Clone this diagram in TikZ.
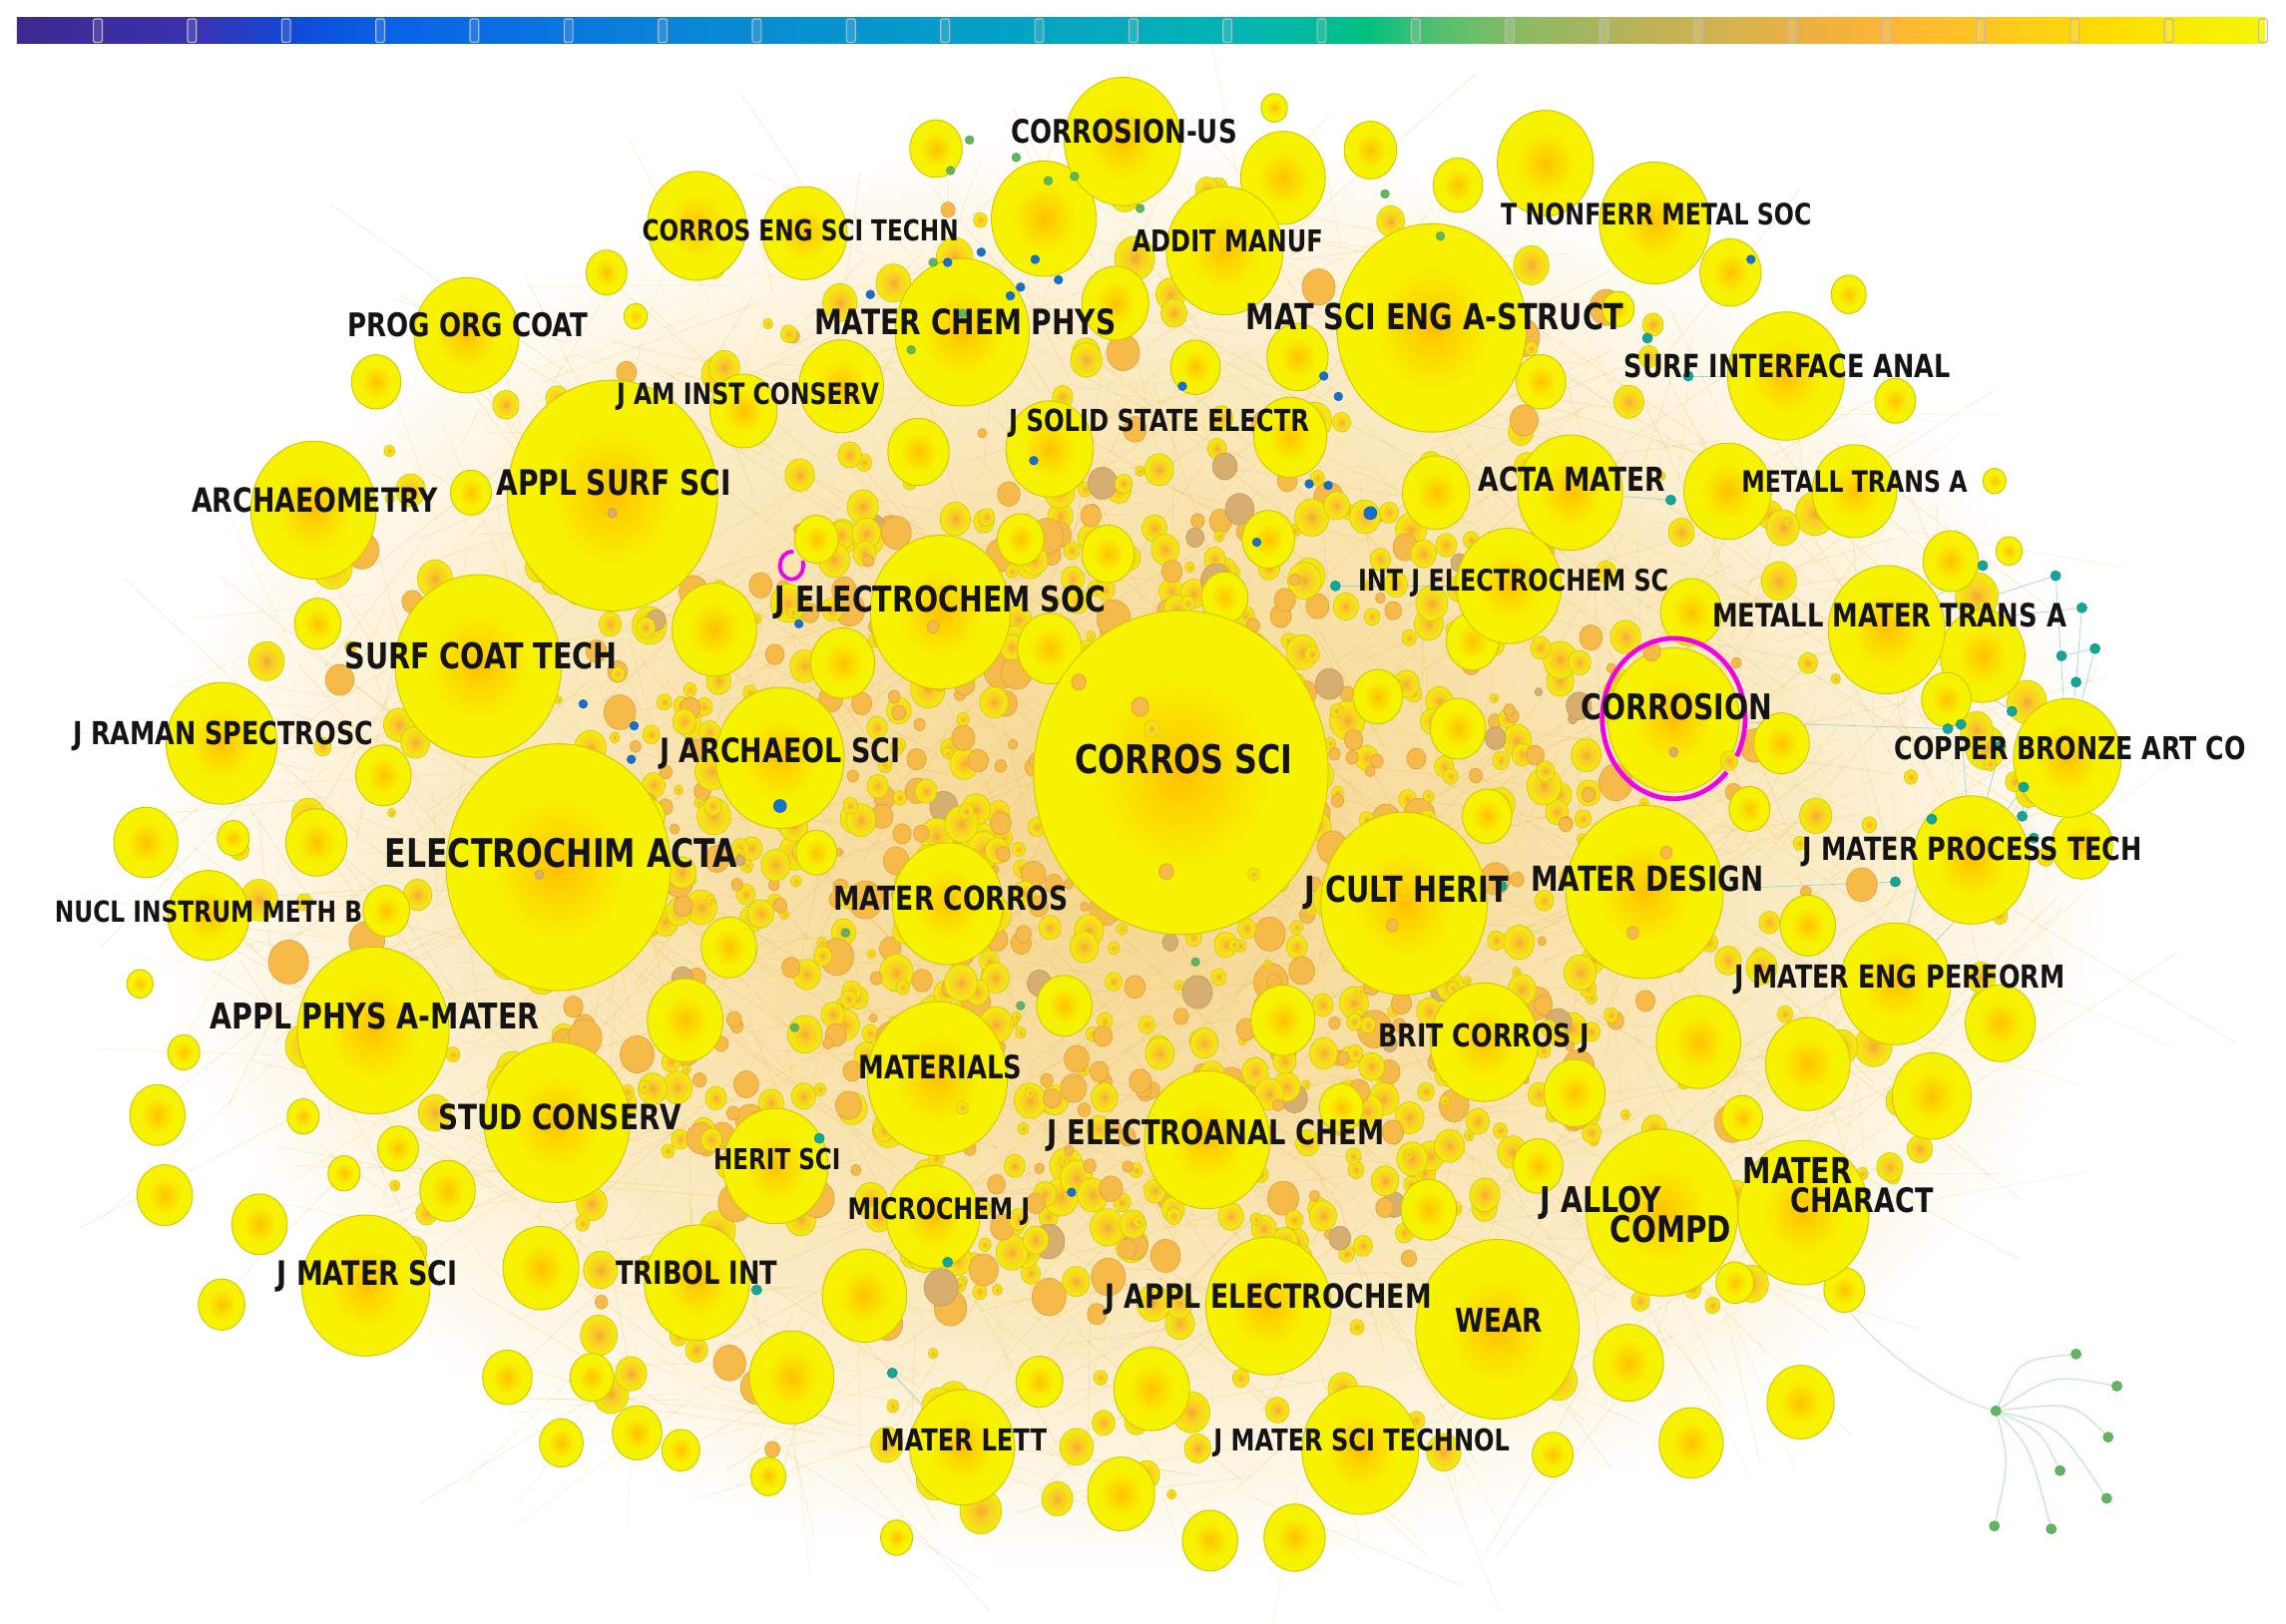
\documentclass[tikz,border=0pt]{standalone}
\usepackage{fontspec}
\usepackage{graphicx}
\usetikzlibrary{shapes.geometric}
\newfontfamily\lblfont{DejaVu Sans}[FakeStretch=0.8]
% node colours
\definecolor{jcore}{HTML}{FFC100}
\definecolor{jmid}{HTML}{FDD600}
\definecolor{jedge}{HTML}{F7F200}
\definecolor{jline}{HTML}{CEC600}
\definecolor{ocore}{HTML}{F5A830}
\definecolor{omid}{HTML}{F9CC28}
\definecolor{oedge}{HTML}{F5E810}
\definecolor{sOr}{HTML}{F6BA48}
\definecolor{sOrL}{HTML}{DE9C3A}
\definecolor{sTan}{HTML}{D6AE70}
\definecolor{sTanL}{HTML}{BC9658}
\definecolor{cl0}{HTML}{F6D68E}
\definecolor{cl1}{HTML}{F8E0A6}
\definecolor{cl2}{HTML}{FBEBC4}
\definecolor{cl3}{HTML}{FEF8EA}
\definecolor{cl4}{HTML}{FFFFFF}
\definecolor{tealdot}{HTML}{12A69B}
\definecolor{bluedot}{HTML}{1670CF}
\definecolor{greendot}{HTML}{5FB560}
\definecolor{mag}{HTML}{F000E6}
\definecolor{webO}{HTML}{E8A83A}
\definecolor{webY}{HTML}{E6D24A}
\definecolor{arcY}{HTML}{EFE39A}
\definecolor{tedgeC}{HTML}{7FD3D0}
\definecolor{gedgeC}{HTML}{CDE9CD}
% colour bar stops
\definecolor{cb0}{HTML}{3D2A90}
\definecolor{cb1}{HTML}{3A32B0}
\definecolor{cb2}{HTML}{1048D6}
\definecolor{cb3}{HTML}{0860E6}
\definecolor{cb4}{HTML}{0A70E2}
\definecolor{cb5}{HTML}{0A82D8}
\definecolor{cb6}{HTML}{0892CF}
\definecolor{cb7}{HTML}{04A2C6}
\definecolor{cb8}{HTML}{03ACBC}
\definecolor{cb9}{HTML}{00B6B0}
\definecolor{cb10}{HTML}{00BC98}
\definecolor{cb11}{HTML}{00C080}
\definecolor{cb12}{HTML}{50C070}
\definecolor{cb13}{HTML}{8CBA62}
\definecolor{cb14}{HTML}{B0B45A}
\definecolor{cb15}{HTML}{D4B24E}
\definecolor{cb16}{HTML}{F0B040}
\definecolor{cb17}{HTML}{FFB830}
\definecolor{cb18}{HTML}{FFC820}
\definecolor{cb19}{HTML}{FFDC00}
\definecolor{cb20}{HTML}{F5F800}
\pgfdeclareradialshading{jshade}{\pgfpoint{0bp}{0bp}}{color(0bp)=(jcore); color(6bp)=(jmid); color(15bp)=(jedge); color(50bp)=(jedge)}
\pgfdeclareradialshading{oshade}{\pgfpoint{0bp}{0bp}}{color(0bp)=(ocore); color(9bp)=(omid); color(22bp)=(oedge); color(50bp)=(oedge)}
\pgfdeclareradialshading{cloudshade}{\pgfpoint{0bp}{0bp}}{color(0bp)=(cl0); color(9bp)=(cl1); color(16bp)=(cl2); color(21bp)=(cl3); color(23.5bp)=(cl4); color(50bp)=(cl4)}
\pgfdeclarelayer{back}
\pgfdeclarelayer{edges}
\pgfsetlayers{back,edges,main}
\tikzset{
  jn/.style={ellipse, inner sep=0pt, shade, shading=jshade, draw=jline, line width=0.6pt},
  sorange/.style={fill=sOr, draw=sOrL, line width=0.4pt},
  stan/.style={fill=sTan, draw=sTanL, line width=0.4pt},
  syel/.style={shade, shading=oshade, draw=jline, line width=0.4pt},
  lbl/.style={inner sep=0pt, text=black!92},
  tdot/.style={circle, inner sep=0pt, minimum size=7pt, fill=tealdot, draw=tealdot!80!black, line width=0.3pt},
  bdot/.style={circle, inner sep=0pt, minimum size=6pt, fill=bluedot, draw=bluedot!80!black, line width=0.3pt},
  gdot/.style={circle, inner sep=0pt, minimum size=6pt, fill=greendot, draw=greendot!85!black, line width=0.3pt},
  tedge/.style={draw=tedgeC, line width=0.5pt, opacity=0.8},
  gedge/.style={draw=gedgeC, line width=1pt},
  web/.style={line width=0.3pt, opacity=0.35},
  arcline/.style={draw=arcY, line width=0.5pt, opacity=0.6},
  ring/.style={draw=mag, line width=3.2pt},
  barstep/.style={draw=gray!55, line width=0.8pt, rounded corners=1pt, fill=white, fill opacity=0.12},
}
\newcommand\jlab[5]{\node[lbl] (#1) at (#2,#3) {\resizebox{#4pt}{!}{\lblfont\bfseries\raisebox{0pt}[\height][0pt]{#5}}};}
\newcommand\smallring[4]{%
  \ifdim#4 pt<0.42pt
    \path[sorange] (#1,#2) ellipse [x radius=#3 pt, y radius=1.1*#3 pt];
  \else\ifdim#4 pt<0.46pt
    \path[stan] (#1,#2) ellipse [x radius=#3 pt, y radius=1.1*#3 pt];
  \else
    \path[syel] (#1,#2) ellipse [x radius=#3 pt, y radius=1.1*#3 pt];
  \fi\fi}
\begin{document}
\begin{tikzpicture}[x=1pt,y=-1pt]
\begin{pgfonlayer}{back}
\fill[white] (0,0) rectangle (1568,1114);
\useasboundingbox (0,0) rectangle (1568,1114);
% colour bar
\foreach \fa/\fb/\ca/\cb in {0/0.08/cb0/cb1, 0.08/0.12/cb1/cb2, 0.12/0.16/cb2/cb3, 0.16/0.22/cb3/cb4, 0.22/0.28/cb4/cb5, 0.28/0.36/cb5/cb6, 0.36/0.44/cb6/cb7, 0.44/0.5/cb7/cb8, 0.5/0.55/cb8/cb9, 0.55/0.58/cb9/cb10, 0.58/0.6/cb10/cb11, 0.6/0.63/cb11/cb12, 0.63/0.67/cb12/cb13, 0.67/0.71/cb13/cb14, 0.71/0.76/cb14/cb15, 0.76/0.8/cb15/cb16, 0.8/0.84/cb16/cb17, 0.84/0.88/cb17/cb18, 0.88/0.93/cb18/cb19, 0.93/1.0/cb19/cb20}
  {\fill[left color=\ca, right color=\cb] ({11.6+1541.4*\fa},12) rectangle ({12.2+1541.4*\fb},29.5);}
\foreach \k in {0,...,23} {\path[barstep] ({64.1+64.57*\k},13) rectangle ++(6,16);}
% outer faint arcs
\pgfmathsetseed{777}
\foreach \i in {1,...,80}{
  \pgfmathsetmacro\aa{50+rnd*210}
  \pgfmathsetmacro\bb{\aa+35+rnd*80}
  \draw[arcline] ({775+600*cos(\aa)},{585+440*sin(\aa)}) .. controls ({775+770*cos(\aa+12)},{585+560*sin(\aa+12)}) and ({775+770*cos(\bb-12)},{585+560*sin(\bb-12)}) .. ({775+600*cos(\bb)},{585+440*sin(\bb)});
}
\foreach \i in {1,...,30}{
  \pgfmathsetmacro\aa{-80+rnd*100}
  \pgfmathsetmacro\bb{\aa+30+rnd*50}
  \draw[arcline] ({775+620*cos(\aa)},{585+450*sin(\aa)}) .. controls ({775+720*cos(\aa+10)},{585+530*sin(\aa+10)}) and ({775+720*cos(\bb-10)},{585+530*sin(\bb-10)}) .. ({775+620*cos(\bb)},{585+450*sin(\bb)});
}
% cloud
\path[shade, shading=cloudshade] (775,585) ellipse [x radius=720, y radius=525];
% web texture
\pgfmathsetseed{4242}
\foreach \i in {1,...,1400}{
  \pgfmathsetmacro\aa{rnd*360}
  \pgfmathsetmacro\ra{0.9*sqrt(rnd)}
  \pgfmathsetmacro\xa{775+690*\ra*cos(\aa)}
  \pgfmathsetmacro\ya{585+500*\ra*sin(\aa)}
  \pgfmathsetmacro\xb{\xa+(rnd-0.5)*320}
  \pgfmathsetmacro\yb{\ya+(rnd-0.5)*250}
  \pgfmathsetmacro\kk{rnd}
  \ifdim\kk pt<0.55pt
    \draw[web, draw=webO] (\xa,\ya) -- (\xb,\yb);
  \else
    \draw[web, draw=webY] (\xa,\ya) -- (\xb,\yb);
  \fi
}
\end{pgfonlayer}
% random small journals (whole cloud)
\pgfmathsetseed{31415}
\foreach \i in {1,...,480}{
  \pgfmathsetmacro\ang{rnd*360}
  \pgfmathsetmacro\rad{0.92*pow(rnd,0.6)}
  \pgfmathsetmacro\px{775+690*\rad*cos(\ang)}
  \pgfmathsetmacro\py{585+500*\rad*sin(\ang)}
  \pgfmathsetmacro\kk{rnd}
  \pgfmathsetmacro\rr{2.5+rnd*(4+9*\rad)}
  \ifdim\rad pt<0.6pt
    \smallring{\px}{\py}{\rr}{\kk}
  \else
    \ifdim\kk pt<0.15pt
      \path[sorange] (\px,\py) ellipse [x radius=\rr pt, y radius=1.1*\rr pt];
    \else
      \path[syel] (\px,\py) ellipse [x radius=\rr pt, y radius=1.1*\rr pt];
    \fi
  \fi
}
% dense centre
\pgfmathsetseed{2718}
\foreach \i in {1,...,650}{
  \pgfmathsetmacro\ang{rnd*360}
  \pgfmathsetmacro\rad{0.62*sqrt(rnd)}
  \pgfmathsetmacro\px{760+640*\rad*cos(\ang)}
  \pgfmathsetmacro\py{600+480*\rad*sin(\ang)}
  \pgfmathsetmacro\kk{0.2+0.8*rnd}
  \pgfmathsetmacro\rr{3+rnd*9}
  \smallring{\px}{\py}{\rr}{\kk}
}
\pgfmathsetseed{1618}
\foreach \i in {1,...,150}{
  \pgfmathsetmacro\ang{rnd*360}
  \pgfmathsetmacro\rad{0.55*sqrt(rnd)}
  \pgfmathsetmacro\px{760+640*\rad*cos(\ang)}
  \pgfmathsetmacro\py{600+480*\rad*sin(\ang)}
  \pgfmathsetmacro\kk{0.8*rnd}
  \pgfmathsetmacro\rr{2.5+rnd*5}
  \smallring{\px}{\py}{\rr}{\kk}
}
% medium journals
\foreach \x/\y/\r [count=\i] in {642/102/18, 716/150/36, 874/74/9, 880/122/29, 940/103/18, 1060/112/33, 1000/127/17, 1187/187/21, 1268/202/12, 1057/262/17, 1110/212/11, 1300/275/14, 577/265/29, 510/282/23, 478/155/34, 552/160/29, 416/187/14, 258/262/17, 323/338/14, 436/217/8, 765/208/23, 630/310/21, 720/308/30, 885/300/25, 820/252/17, 890/245/21, 985/338/23, 1185/337/30, 1272/337/29, 1338/385/19, 1378/378/9, 1360/450/29, 1160/420/21, 1222/510/19, 1200/555/14, 1335/480/17, 1428/580/21, 1240/635/19, 1372/702/24, 1240/730/29, 1165/715/29, 1325/752/27, 1195/767/14, 1117/935/24, 1160/990/22, 1235/962/23, 1065/998/14, 1055/800/17, 1080/750/21, 980/830/19, 888/1055/21, 830/1057/19, 790/953/26, 769/1025/23, 713/948/16, 615/1055/11, 593/889/29, 543/945/29, 527/1013/12, 467/995/13, 437/983/17, 406/945/15, 385/990/15, 348/945/17, 371/870/26, 152/895/16, 178/840/19, 113/820/19, 108/765/19, 126/722/11, 96/675/9, 307/817/19, 273/788/14, 236/805/11, 208/766/11, 100/578/22, 160/575/11, 217/578/21, 263/532/19, 218/428/16, 490/432/29, 470/700/26, 500/650/19, 880/700/22, 920/760/15, 1000/500/19, 1010/440/18, 870/370/18, 945/478/17, 1020/560/17, 560/585/14, 730/690/19, 720/445/22, 578/455/22, 445/560/11, 265/625/16, 1265/885/14, 1190/880/13, 760/380/18, 840/410/16, 700/370/16, 560/370/15, 980/270/15, 1368/330/8}
  {\node[jn, minimum width=\r*2pt, minimum height=\r*2.2pt] (m\i) at (\x,\y) {};}
% labelled journals
\foreach \n/\x/\y/\r in {nucl/143/628/28, microchem/640/835/32, tribol/478/880/36, materlett/660/993/36, heritsci/532/800/36, actamater/1077/338/36, intj/1035/402/36, copper/1418/520/37, britcorros/1018/715/37, progorg/320/230/36, jmatereng/1300/675/38, matercorros/650/620/38, tnonferr/1135/153/38, jraman/152/510/38, metallmater/1294/432/40, jmaterprocess/1352/590/40, surfinterface/1225/258/40, corrosionus/770/97/40, addit/840/172/40, jmaterscitech/933/995/40, archaeo/215/350/43, jelectroanal/828/782/43, japplelectro/870/896/43, jmatersci/251/882/44, jarchaeol/535/520/44, matercharact/1237/832/45, corrosion/1148/494/45, materchem/660/228/46, materials/643/740/48, jelectrochem/645/420/48, studconserv/382/770/50, applphys/256/707/52, jalloy/1140/832/52, materdesign/1128/612/54, wear/1027/912/56, surfcoat/328/457/57, jcult/963/620/57, matsci/982/225/65, applsurf/420/340/72, electrochim/383/595/77, corrossci/810/530/101}
  {\node[jn, minimum width=\r*2pt, minimum height=\r*2.2pt] (n-\n) at (\x,\y) {};}
% a few small journals lying over the large ones
\foreach \x/\y/\r/\k in {782/485/6/0.3, 790/500/5/0.5, 740/468/5/0.3, 800/598/5/0.3, 860/600/4/0.5, 1133/447/6/0.3, 1186/522/6/0.7, 1148/516/3/0.44, 420/352/3/0.44, 955/635/4/0.3, 1120/640/4/0.3, 1143/585/4/0.3, 370/600/3/0.44, 640/430/4/0.3, 660/760/4/0.5}
  {\smallring{\x}{\y}{\r}{\k}}
% blue dots
\foreach \x/\y [count=\i] in {700/197, 673/173, 710/178, 726/192, 597/202, 548/428, 433/521, 435/498, 400/483, 918/272, 908/258, 862/372, 898/332, 911/333, 735/818, 811/265, 709/316, 1201/178, 650/180, 693/203}
  {\node[bdot] (b\i) at (\x,\y) {};}
\node[bdot, minimum size=9pt] (b21) at (535,553) {};
\node[bdot, minimum size=9pt] (b22) at (940,352) {};
% teal dots
\foreach \x/\y [count=\i] in {1410/395, 1428/417, 1437/445, 1424/468, 1380/488, 1372/512, 1388/540, 1336/500, 1325/562, 1387/560, 1146/343, 1158/258, 916/402, 1030/608, 650/866, 612/942, 562/781, 519/885, 1345/497, 1414/450, 1395/575, 1130/232, 1360/388, 1300/605}
  {\node[tdot] (t\i) at (\x,\y) {};}
% green dots
\foreach \x/\y [count=\i] in {665/96, 652/117, 719/124, 737/121, 697/108, 782/143, 950/133, 988/162, 625/240, 660/215, 640/180, 820/660, 545/705, 580/640, 700/690}
  {\node[gdot] (d\i) at (\x,\y) {};}
% teal connectors
\begin{pgfonlayer}{edges}
\foreach \a/\b in {t1/n-metallmater, t2/n-metallmater, t3/n-copper, t4/n-copper, t5/n-copper, t6/n-jmaterprocess, t7/n-jmaterprocess, t8/n-corrosion, t9/n-jmaterprocess, t10/n-copper, t20/t3, t1/n-copper, t2/t4, t5/n-metallmater, t19/n-jmaterprocess, t24/n-materdesign, t23/n-metallmater, t21/n-jmatereng, t9/n-jmatereng, t12/n-surfinterface, t11/n-actamater, t13/n-intj, t18/n-tribol, t16/n-materlett, t15/n-microchem, t17/n-heritsci, t14/n-jcult, t7/t10, t6/t19, t8/t19}
  {\draw[tedge] (\a) -- (\b);}
\end{pgfonlayer}
% magenta rings
\draw[ring] ({1148+49*cos(42)},{493+55*sin(42)}) arc [start angle=42, end angle=388, x radius=49, y radius=55];
\draw[ring, line width=2.6pt] ({543+8*cos(-20)},{388+9.5*sin(-20)}) arc [start angle=-20, end angle=280, x radius=8, y radius=9.5];
% green satellite cluster
\node[gdot, minimum size=7pt] (g0) at (1369,968) {};
\foreach \x/\y [count=\i] in {1424/929, 1452/951, 1446/986, 1413/1009, 1445/1028, 1368/1047, 1407/1049}
  {\node[gdot, minimum size=7pt] (g\i) at (\x,\y) {};}
\begin{pgfonlayer}{edges}
\draw[gedge] (g0) .. controls (1385,933) .. (g1);
\draw[gedge] (g0) .. controls (1408,943) .. (g2);
\draw[gedge] (g0) .. controls (1422,962) .. (g3);
\draw[gedge] (g0) .. controls (1400,982) .. (g4);
\draw[gedge] (g0) .. controls (1412,978) .. (g5);
\draw[gedge] (g0) .. controls (1378,1002) .. (g6);
\draw[gedge] (g0) .. controls (1392,992) .. (g7);
\draw[gedge, line width=0.8pt] (g0) .. controls (1320,955) and (1265,905) .. (n-matercharact);
\end{pgfonlayer}
% labels
\jlab{l-corrossci}{812}{521}{149}{CORROS SCI}
\jlab{l-electrochim}{385}{585}{242}{ELECTROCHIM ACTA}
\jlab{l-applsurf}{421}{331}{161}{APPL SURF SCI}
\jlab{l-surfcoat}{330}{450}{187}{SURF COAT TECH}
\jlab{l-archaeo}{216}{343}{169}{ARCHAEOMETRY}
\jlab{l-corrosion}{1150}{485}{131}{CORROSION}
\jlab{l-matsci}{984}{217}{259}{MAT SCI ENG A-STRUCT}
\jlab{l-materchem}{662}{221}{207}{MATER CHEM PHYS}
\jlab{l-jcult}{965}{610}{140}{J CULT HERIT}
\jlab{l-materdesign}{1130}{603}{160}{MATER DESIGN}
\jlab{l-wear}{1028}{906}{60}{WEAR}
\jlab{l-jalloy}{1098}{823}{83}{J ALLOY}
\jlab{l-compd}{1146}{843}{83}{COMPD}
\jlab{l-mater}{1233}{803}{75}{MATER}
\jlab{l-charact}{1277}{823}{98}{CHARACT}
\jlab{l-applphys}{257}{697}{226}{APPL PHYS A-MATER}
\jlab{l-studconserv}{384}{766}{167}{STUD CONSERV}
\jlab{l-jmatersci}{252}{873}{124}{J MATER SCI}
\jlab{l-tribol}{478}{873}{111}{TRIBOL INT}
\jlab{l-materials}{645}{732}{112}{MATERIALS}
\jlab{l-jelectrochem}{645}{411}{227}{J ELECTROCHEM SOC}
\jlab{l-jarchaeol}{535}{515}{165}{J ARCHAEOL SCI}
\jlab{l-matercorros}{652}{616}{161}{MATER CORROS}
\jlab{l-jelectroanal}{834}{777}{231}{J ELECTROANAL CHEM}
\jlab{l-japplelectro}{870}{889}{224}{J APPL ELECTROCHEM}
\jlab{l-jmaterscitech}{934}{988}{203}{J MATER SCI TECHNOL}
\jlab{l-materlett}{661}{988}{114}{MATER LETT}
\jlab{l-microchem}{644}{829}{125}{MICROCHEM J}
\jlab{l-heritsci}{533}{795}{87}{HERIT SCI}
\jlab{l-britcorros}{1018}{710}{145}{BRIT CORROS J}
\jlab{l-jmatereng}{1303}{670}{227}{J MATER ENG PERFORM}
\jlab{l-jmaterprocess}{1353}{582}{233}{J MATER PROCESS TECH}
\jlab{l-copper}{1420}{513}{241}{COPPER BRONZE ART CO}
\jlab{l-metallmater}{1296}{422}{243}{METALL MATER TRANS A}
\jlab{l-metalltrans}{1272}{330}{155}{METALL TRANS A}
\jlab{l-actamater}{1078}{329}{128}{ACTA MATER}
\jlab{l-intj}{1038}{398}{213}{INT J ELECTROCHEM SC}
\jlab{l-surfinterface}{1226}{251}{224}{SURF INTERFACE ANAL}
\jlab{l-tnonferr}{1136}{147}{213}{T NONFERR METAL SOC}
\jlab{l-corrosionus}{771}{90}{155}{CORROSION-US}
\jlab{l-corroseng}{549}{158}{217}{CORROS ENG SCI TECHN}
\jlab{l-addit}{842}{165}{131}{ADDIT MANUF}
\jlab{l-jsolid}{795}{288}{206}{J SOLID STATE ELECTR}
\jlab{l-jaminst}{513}{270}{180}{J AM INST CONSERV}
\jlab{l-progorg}{321}{223}{165}{PROG ORG COAT}
\jlab{l-jraman}{153}{503}{206}{J RAMAN SPECTROSC}
\jlab{l-nucl}{143}{625}{211}{NUCL INSTRUM METH B}
\end{tikzpicture}
\end{document}
